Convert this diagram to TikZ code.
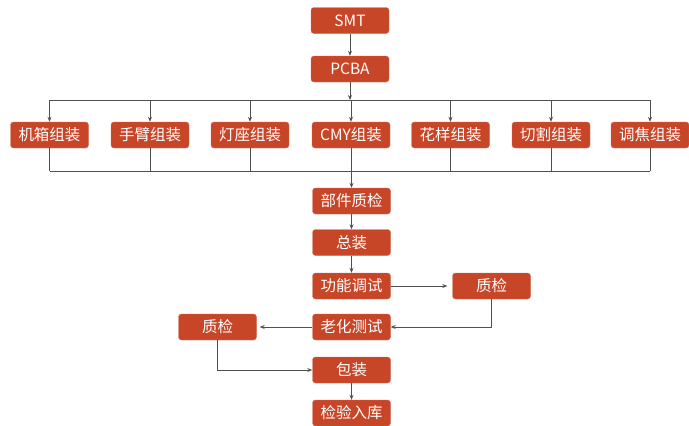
\documentclass[tikz,border=0pt]{standalone}
\usepackage{fontspec}
\newfontfamily\cjk{Noto Sans CJK SC}
\usetikzlibrary{arrows.meta}
\definecolor{boxred}{RGB}{200,70,40}
\definecolor{linegray}{RGB}{80,80,80}
\tikzset{
  box/.style={draw=boxred!80!white, fill=boxred, rounded corners=3pt, minimum width=78pt, minimum height=26pt, inner sep=0pt, text=white, font=\cjk\fontsize{15.5pt}{17pt}\selectfont},
  conn/.style={draw=linegray, line width=0.7pt},
  arr/.style={conn, -{Stealth[length=5pt,width=4pt]}},
}
\begin{document}
\begin{tikzpicture}[x=1pt,y=-1pt]
\useasboundingbox (0,0) rectangle (689,426);
\node[box] (smt) at (350,20.5) {SMT};
\node[box] (pcba) at (350,69) {PCBA};
\node[box] (b1) at (49.5,135) {机箱组装};
\node[box] (b2) at (150,135) {手臂组装};
\node[box] (b3) at (250,135) {灯座组装};
\node[box] (b4) at (351,135) {CMY组装};
\node[box] (b5) at (450.5,135) {花样组装};
\node[box] (b6) at (551,135) {切割组装};
\node[box] (b7) at (650,135) {调焦组装};
\node[box] (qc1) at (351.5,201) {部件质检};
\node[box] (zz) at (351.5,242.5) {总装};
\node[box] (gn) at (351.5,286) {功能调试};
\node[box] (qcr) at (491.5,286) {质检};
\node[box] (lh) at (351.5,327) {老化测试};
\node[box] (qcl) at (217.5,327) {质检};
\node[box] (bz) at (351.5,370) {包装};
\node[box] (jy) at (351.5,413) {检验入库};

\coordinate (top) at (351,100);
\coordinate (bot) at (351,171);
\coordinate (tl) at (49.5,100);
\coordinate (tr) at (650,100);
\coordinate (bl) at (49.5,171);
\coordinate (br) at (650,171);

\draw[arr] (smt) -- (pcba);
\draw[arr] (pcba.south) -- (pcba.south |- top);
\draw[conn] (tl) -- (tr);
\foreach \n in {b1,b2,b3,b4,b5,b6,b7}{
  \draw[arr] (\n.north |- top) -- (\n.north);
  \draw[conn] (\n.south) -- (\n.south |- bot);
}
\draw[conn] (bl) -- (br);
\draw[arr] (qc1.north |- bot) -- (qc1.north);
\draw[arr] (qc1) -- (zz);
\draw[arr] (zz) -- (gn);
\draw[arr, shorten >=5pt] (gn) -- (qcr);
\draw[arr] (qcr.south) |- (lh.east);
\draw[arr, shorten >=3pt] (lh) -- (qcl);
\draw[arr] (qcl.south) |- (bz.west);
\draw[arr] (bz) -- (jy);
\end{tikzpicture}
\end{document}
